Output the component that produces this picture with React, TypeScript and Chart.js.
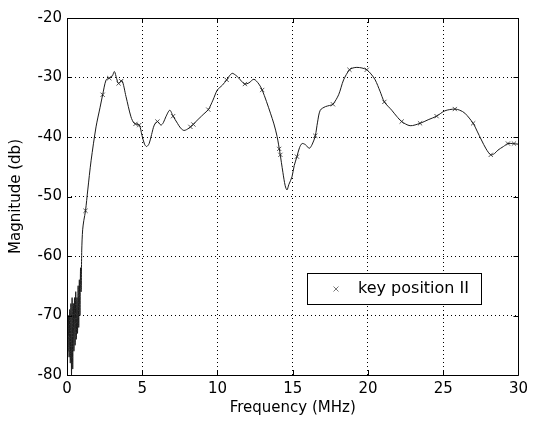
import { useEffect, useRef } from "react";
import { Chart, registerables } from "chart.js";

Chart.register(...registerables);

// Frequency (MHz) of the measured curve
const freq = [
  0.02, 0.06, 0.1, 0.14, 0.18, 0.22, 0.26, 0.3, 0.34, 0.38, 0.42, 0.46, 0.5, 0.54, 0.58, 0.62, 0.66, 0.7, 0.74, 0.78,
  0.82, 0.86, 0.9, 0.94, 0.98, 1.04, 1.12, 1.23, 1.38, 1.6, 1.93, 2.2, 2.37, 2.6, 2.81, 3.0, 3.15, 3.3, 3.43, 3.65,
  3.92, 4.25, 4.47, 4.8, 4.98, 5.15, 5.29, 5.46, 5.62, 5.8, 6.01, 6.24, 6.4, 6.57, 6.83, 7.05, 7.34, 7.55, 7.78, 8.11,
  8.33, 8.77, 9.1, 9.39, 9.7, 9.99, 10.32, 10.61, 10.8, 10.98, 11.2, 11.42, 11.62, 11.82, 12.09, 12.42, 12.75, 12.97,
  13.25, 13.52, 13.75, 13.96, 14.14, 14.35, 14.5, 14.62, 14.74, 14.95, 15.1, 15.28, 15.45, 15.62, 15.85, 16.1, 16.3,
  16.5, 16.65, 16.83, 17.17, 17.45, 17.67, 18.05, 18.38, 18.77, 19.0, 19.26, 19.6, 19.92, 20.2, 20.48, 20.8, 21.09,
  21.58, 21.9, 22.24, 22.8, 23.46, 24.0, 24.56, 25.11, 25.77, 26.1, 26.44, 26.99, 27.25, 27.54, 27.85, 28.16, 28.4,
  28.64, 29.0, 29.3, 29.6, 29.97,
];

// Magnitude (db) of the measured curve
const magnitude = [
  -72, -76, -70, -77, -69, -78, -68, -80, -67, -79, -68, -76, -67, -75, -66, -74, -67, -73, -65, -72,
  -64, -70, -62, -66, -59, -55.6, -54, -52.4, -48.9, -44, -38.3, -35, -32.9, -30.4, -30.1, -29.8, -29.0, -30.2, -31.0, -30.5,
  -33.2, -36.6, -37.7, -38.0, -39.7, -41.2, -41.6, -41.1, -39.6, -38.0, -37.4, -38.0, -37.6, -36.6, -35.5, -36.5, -37.7, -38.5, -38.9, -38.5,
  -38.0, -36.9, -36.1, -35.4, -33.8, -32.1, -31.3, -30.4, -29.7, -29.3, -29.6, -30.1, -30.7, -31.1, -30.9, -30.3, -31.1, -32.1,
  -34.0, -36.0, -37.8, -39.9, -42.5, -46.0, -48.2, -48.9, -48.0, -46.7, -44.8, -43.3, -41.8, -41.1, -41.3, -41.9, -41.2,
  -39.8, -37.5, -35.5, -34.9, -34.7, -34.5, -32.9, -30.4, -28.7, -28.4, -28.3, -28.4, -28.7, -29.4, -30.4, -32.3, -34.1,
  -35.5, -36.5, -37.4, -38.1, -37.7, -37.1, -36.5, -35.6, -35.3, -35.5, -36.0, -37.7, -39.0, -40.5, -42.0, -43.0, -42.8,
  -42.2, -41.6, -41.1, -41.1, -41.2,
];

// "x" markers of key position II
const markerFreq = [
  0.06, 1.23, 2.37, 2.81, 3.43, 3.6, 4.55, 4.8, 6.01, 7.05, 8.2, 8.4, 9.39, 10.61, 11.82, 12.97, 14.1, 14.18,
  15.28, 16.5, 17.67, 18.77, 19.92, 21.09, 22.24, 23.46, 24.56, 25.77, 26.99, 28.16, 29.3, 29.7,
];
const markerMag = [
  -73, -52.4, -32.9, -30.1, -31.0, -30.6, -37.8, -38.0, -37.4, -36.5, -38.3, -37.9, -35.4, -30.4, -31.1, -32.1, -42.0, -43.0,
  -43.3, -39.8, -34.5, -28.7, -28.7, -34.1, -37.4, -37.7, -36.5, -35.3, -37.7, -43.0, -41.1, -41.1,
];

const xTicks = [0, 5, 10, 15, 20, 25, 30];
const yTicks = [-80, -70, -60, -50, -40, -30, -20];
const legendLabel = "key position II";
const xTitle = "Frequency (MHz)";
const yTitle = "Magnitude (db)";

const FONT = "'DejaVu Sans', 'Liberation Sans', Arial, sans-serif";

const framePlugin = {
  id: "frame",
  afterDraw(chart: any) {
    const { ctx, chartArea } = chart;
    const { left, right, top, bottom } = chartArea;
    const xs = chart.scales.x;
    const ys = chart.scales.y;
    ctx.save();
    ctx.strokeStyle = "#000";
    ctx.lineWidth = 1;
    ctx.beginPath();
    ctx.rect(Math.round(left) + 0.5, Math.round(top) + 0.5, Math.round(right - left), Math.round(bottom - top));
    ctx.stroke();
    const tl = 5;
    ctx.beginPath();
    xTicks.forEach((v) => {
      const px = Math.round(xs.getPixelForValue(v)) + 0.5;
      ctx.moveTo(px, bottom);
      ctx.lineTo(px, bottom - tl);
      ctx.moveTo(px, top);
      ctx.lineTo(px, top + tl);
    });
    yTicks.forEach((v) => {
      const py = Math.round(ys.getPixelForValue(v)) + 0.5;
      ctx.moveTo(left, py);
      ctx.lineTo(left + tl, py);
      ctx.moveTo(right, py);
      ctx.lineTo(right - tl, py);
    });
    ctx.stroke();

    // legend box
    const bx = 307, by = 273, bw = 174, bh = 31;
    ctx.fillStyle = "#fff";
    ctx.fillRect(bx, by, bw, bh);
    ctx.strokeStyle = "#000";
    ctx.strokeRect(bx + 0.5, by + 0.5, bw, bh);
    const mx = 336, my = by + bh / 2 + 0.5;
    ctx.strokeStyle = "#777";
    ctx.beginPath();
    ctx.moveTo(mx - 2.5, my - 2.5);
    ctx.lineTo(mx + 2.5, my + 2.5);
    ctx.moveTo(mx - 2.5, my + 2.5);
    ctx.lineTo(mx + 2.5, my - 2.5);
    ctx.stroke();
    ctx.fillStyle = "#000";
    ctx.font = `16px ${FONT}`;
    ctx.textBaseline = "middle";
    ctx.textAlign = "left";
    ctx.fillText(chart.data.datasets[1].label, 358, my);
    ctx.restore();
  },
};

export default function App() {
  const ref = useRef<HTMLCanvasElement | null>(null);
  useEffect(() => {
    if (!ref.current) return;
    const linePts = freq.map((f, i) => ({ x: f, y: magnitude[i] }));
    const markPts = markerFreq.map((f, i) => ({ x: f, y: markerMag[i] }));
    const chart = new Chart(ref.current, {
      type: "scatter",
      data: {
        datasets: [
          {
            label: "curve",
            data: linePts,
            showLine: true,
            borderColor: "#1a1a1a",
            borderWidth: 1,
            pointRadius: 0,
            tension: 0.3,
          },
          {
            label: legendLabel,
            data: markPts,
            showLine: false,
            pointStyle: "crossRot",
            pointRadius: 3,
            borderColor: "#555",
            borderWidth: 1,
            backgroundColor: "#555",
          },
        ],
      },
      options: {
        responsive: false,
        animation: false,
        layout: { padding: { top: 18, right: 12, left: 0, bottom: 0 } },
        plugins: { legend: { display: false }, tooltip: { enabled: false } },
        scales: {
          x: {
            type: "linear",
            min: 0,
            max: 30,
            afterBuildTicks: (s: any) => {
              s.ticks = xTicks.map((v) => ({ value: v }));
            },
            afterFit: (s: any) => {
              s.height = 55;
            },
            ticks: { color: "#000", font: { family: FONT, size: 15 }, padding: 5, maxRotation: 0 },
            grid: { color: "#000", drawTicks: false, tickBorderDash: [1, 3] as any },
            border: { display: false, dash: [1, 3] },
            title: {
              display: true,
              text: xTitle,
              color: "#000",
              font: { family: FONT, size: 15 },
              padding: { top: 0, bottom: 13 },
            },
          },
          y: {
            type: "linear",
            min: -80,
            max: -20,
            afterBuildTicks: (s: any) => {
              s.ticks = yTicks.map((v) => ({ value: v }));
            },
            afterFit: (s: any) => {
              s.width = 67;
            },
            ticks: { color: "#000", font: { family: FONT, size: 15 }, padding: 5 },
            grid: { color: "#000", drawTicks: false },
            border: { display: false, dash: [1, 3] },
            title: {
              display: true,
              text: yTitle,
              color: "#000",
              font: { family: FONT, size: 15 },
              padding: { top: 7, bottom: 0 },
            },
          },
        },
      },
      plugins: [framePlugin],
    });
    return () => chart.destroy();
  }, []);
  return (
    <div style={{ position: "fixed", left: 0, top: 0, width: 533, height: 430, background: "#fff" }}>
      <canvas ref={ref} width={533} height={430} />
    </div>
  );
}
